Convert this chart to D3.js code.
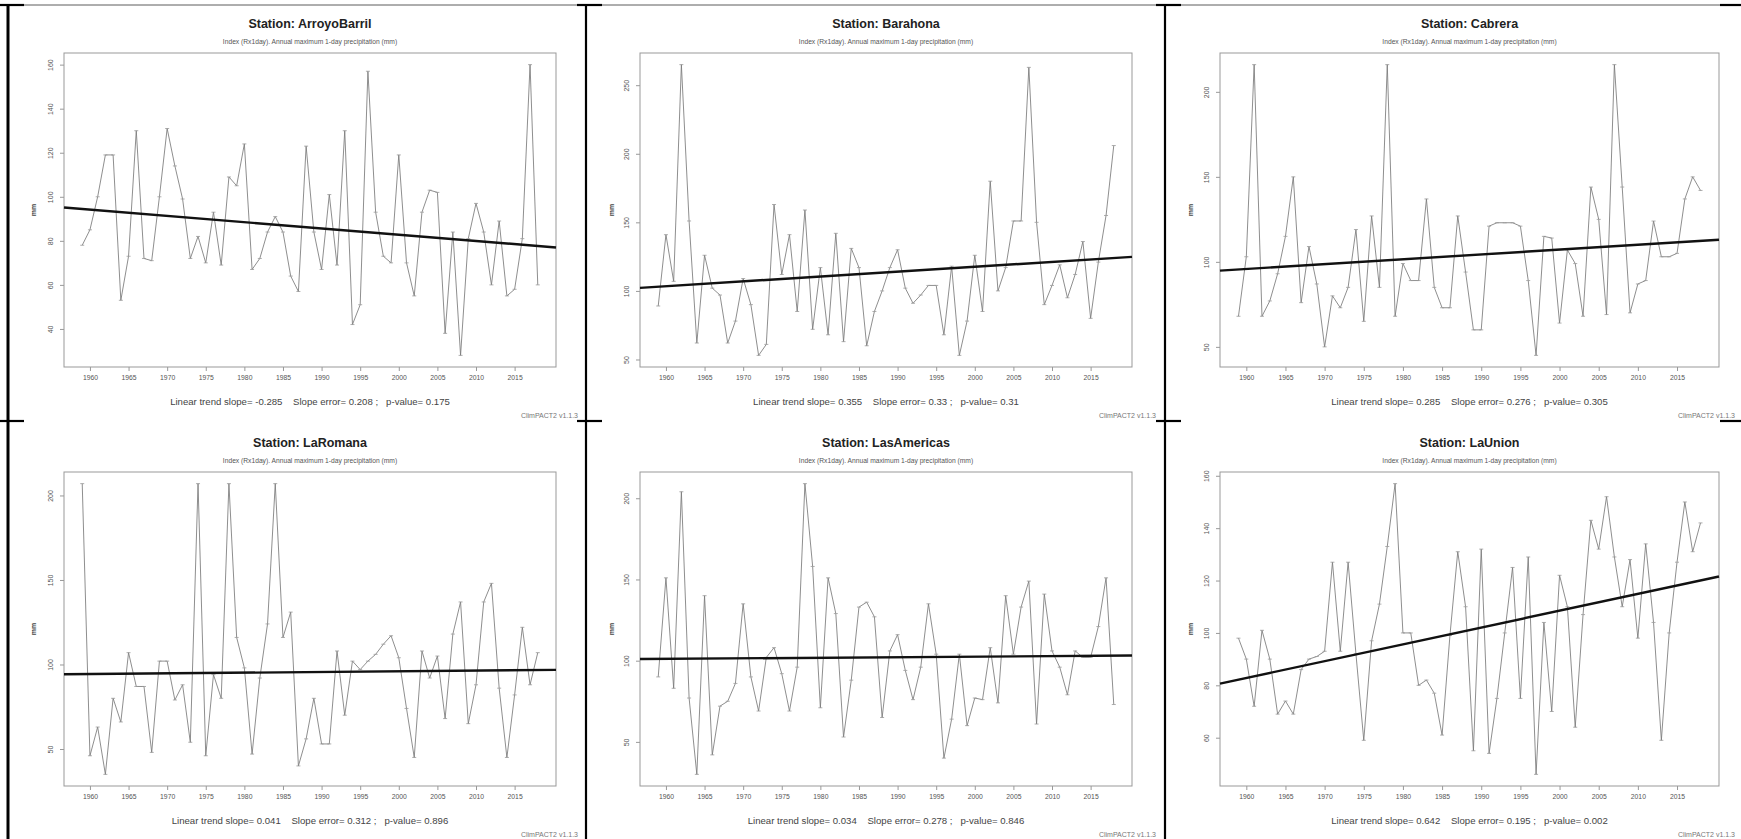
<!DOCTYPE html>
<html>
<head>
<meta charset="utf-8">
<script src="https://cdn.jsdelivr.net/npm/d3@7"></script>
<style>
  html, body { margin: 0; padding: 0; background: #fff; }
  svg { display: block; font-family: "Liberation Sans", Arial, Helvetica, sans-serif; }
  .pre { white-space: pre; }
</style>
</head>
<body>
<svg id="chart" width="1741" height="839"></svg>
<script>
// ---- data -------------------------------------------------------------
const stationNames = ["ArroyoBarril", "Barahona", "Cabrera", "LaRomana", "LasAmericas", "LaUnion"];
const years = d3.range(1959, 2019);

const arroyoBarril = [78, 85, 100, 119, 119, 53, 73, 130, 72, 71, 100, 131, 114, 99, 72, 82, 70, 93, 69, 109,
  105, 124, 67, 72, 84, 91, 84, 64, 57, 123, 84, 67, 101, 69, 130, 42, 51, 157, 93, 73,
  70, 119, 70, 55, 93, 103, 102, 38, 84, 28, 81, 97, 84, 60, 89, 55, 58, 81, 160, 60];
const barahona = [89, 141, 107, 265, 151, 62, 126, 102, 97, 62, 78, 109, 90, 53, 61, 163, 112, 141, 85, 159,
  72, 117, 68, 142, 63, 131, 117, 60, 85, 100, 117, 130, 102, 91, 97, 104, 104, 68, 118, 53,
  78, 126, 85, 180, 100, 117, 151, 151, 263, 150, 90, 104, 119, 95, 112, 136, 80, 121, 155, 206];
const cabrera = [68, 103, 216, 68, 77, 93, 115, 150, 76, 109, 87, 50, 80, 73, 85, 119, 65, 127, 85, 216,
  68, 99, 89, 89, 137, 85, 73, 73, 127, 94, 60, 60, 121, 123, 123, 123, 121, 89, 45, 115,
  114, 64, 107, 99, 68, 144, 125, 69, 216, 144, 70, 87, 89, 124, 103, 103, 105, 137, 150, 142];
const laRomana = [207, 46, 63, 35, 80, 66, 107, 87, 87, 48, 102, 102, 79, 88, 54, 207, 46, 94, 80, 207,
  116, 98, 47, 92, 124, 207, 116, 131, 40, 56, 80, 53, 53, 108, 70, 102, 97, 102, 106, 112,
  117, 104, 74, 45, 108, 92, 105, 68, 118, 137, 65, 88, 137, 148, 86, 45, 82, 122, 88, 107];
const lasAmericas = [90, 151, 83, 204, 77, 30, 140, 42, 72, 75, 86, 135, 90, 69, 102, 108, 92, 69, 96, 209,
  158, 71, 151, 129, 53, 88, 133, 136, 127, 65, 106, 116, 94, 76, 96, 135, 104, 40, 64, 104,
  60, 77, 76, 108, 74, 140, 104, 133, 149, 61, 141, 106, 96, 79, 106, 102, 102, 121, 151, 73];
const laUnion = [98, 90, 72, 101, 90, 69, 74, 69, 86, 90, 91, 93, 127, 93, 127, 92, 59, 97, 111, 133,
  157, 100, 100, 80, 82, 77, 61, 99, 131, 110, 55, 132, 54, 75, 100, 125, 75, 129, 46, 104,
  70, 122, 110, 64, 107, 143, 132, 152, 129, 110, 128, 98, 134, 104, 59, 100, 127, 150, 131, 142];

const seriesValues = [arroyoBarril, barahona, cabrera, laRomana, lasAmericas, laUnion];

// trend statistics printed under each panel (slope in mm per year)
const trendSlopes = [-0.285, 0.355, 0.285, 0.041, 0.034, 0.642];
const slopeErrors = ["0.208", "0.33", "0.276", "0.312", "0.278", "0.195"];
const pValues = ["0.175", "0.31", "0.305", "0.896", "0.846", "0.002"];

const xTickValues = d3.range(1960, 2016, 5);
const yTickValues = [
  [40, 60, 80, 100, 120, 140, 160],
  [50, 100, 150, 200, 250],
  [50, 100, 150, 200],
  [50, 100, 150, 200],
  [50, 100, 150, 200],
  [60, 80, 100, 120, 140, 160]
];

const subtitleText = "Index (Rx1day). Annual maximum 1-day precipitation (mm)";
const versionText = "ClimPACT2 v1.1.3";

// ---- layout -----------------------------------------------------------
const svg = d3.select("#chart");
const colX = [8, 586, 1165];
const rowY = [0, 419];
const plotLeft = [56, 54, 55];
const plotRight = [548, 546, 554];
const plotTop = 53, plotBottom = 367;

// frame lines and corner marks of the panel grid
const frame = svg.append("g").attr("stroke", "#000");
frame.append("line").attr("x1", colX[0]).attr("x2", 1741).attr("y1", 5).attr("y2", 5)
  .attr("stroke", "#333").attr("stroke-width", 0.8);
colX.forEach(x => {
  frame.append("line").attr("x1", x).attr("x2", x).attr("y1", 4).attr("y2", 839).attr("stroke-width", x === colX[0] ? 3 : 2.2);
  frame.append("line").attr("x1", x - 9).attr("x2", x + 16).attr("y1", 421).attr("y2", 421).attr("stroke-width", 2.2);
  frame.append("line").attr("x1", x - 9).attr("x2", x + 16).attr("y1", 5).attr("y2", 5).attr("stroke-width", 2.2);
});
frame.append("line").attr("x1", 1720).attr("x2", 1741).attr("y1", 421).attr("y2", 421).attr("stroke-width", 2.2);
frame.append("line").attr("x1", 1720).attr("x2", 1741).attr("y1", 5).attr("y2", 5).attr("stroke-width", 2.2);

stationNames.forEach((name, k) => {
  const col = k % 3, row = Math.floor(k / 3);
  const ox = colX[col], oy = rowY[row];
  const left = ox + plotLeft[col], right = ox + plotRight[col];
  const top = oy + plotTop, bottom = oy + plotBottom;
  const values = seriesValues[k];
  const g = svg.append("g");

  // R-style axis ranges: data extent padded by 4% on each side
  const xPad = (years[years.length - 1] - years[0]) * 0.04;
  const x = d3.scaleLinear().domain([years[0] - xPad, years[years.length - 1] + xPad]).range([left, right]);
  const [vmin, vmax] = d3.extent(values);
  const yPad = (vmax - vmin) * 0.04;
  const y = d3.scaleLinear().domain([vmin - yPad, vmax + yPad]).range([bottom, top]);

  const cx = (left + right) / 2;
  g.append("text").attr("x", cx).attr("y", oy + 28).attr("text-anchor", "middle")
    .attr("font-size", 12.5).attr("font-weight", "bold").attr("fill", "#222").text("Station: " + name);
  g.append("text").attr("x", cx).attr("y", oy + 44).attr("text-anchor", "middle")
    .attr("font-size", 6.7).attr("fill", "#555").text(subtitleText);

  // axes
  const xAxis = d3.axisBottom(x).tickValues(xTickValues).tickFormat(d3.format("d")).tickSize(4).tickPadding(4);
  const gx = g.append("g").attr("transform", `translate(0,${bottom})`).call(xAxis);
  gx.select(".domain").remove();
  gx.selectAll("line").attr("stroke", "#999");
  gx.selectAll("text").attr("font-size", 6.8).attr("fill", "#555").attr("font-family", "inherit");

  const yAxis = d3.axisLeft(y).tickValues(yTickValues[k]).tickSize(4).tickPadding(3);
  const gy = g.append("g").attr("transform", `translate(${left},0)`).call(yAxis);
  gy.select(".domain").remove();
  gy.selectAll("line").attr("stroke", "#999");
  gy.selectAll("text").attr("font-size", 7).attr("fill", "#555").attr("font-family", "inherit")
    .attr("text-anchor", "middle").attr("dy", 0).attr("x", 0)
    .attr("transform", "translate(-11,0) rotate(-90)");

  g.append("text").attr("transform", `translate(${ox + 28},${(top + bottom) / 2}) rotate(-90)`)
    .attr("text-anchor", "middle").attr("font-size", 7).attr("font-weight", "bold").attr("fill", "#444").text("mm");

  // plot box
  g.append("rect").attr("x", left).attr("y", top).attr("width", right - left).attr("height", bottom - top)
    .attr("fill", "none").attr("stroke", "#999").attr("stroke-width", 1);

  // series line with point markers
  const line = d3.line().x((d, i) => x(years[i])).y(d => y(d));
  g.append("path").datum(values).attr("d", line).attr("fill", "none").attr("stroke", "#7a7a7a").attr("stroke-width", 0.85);
  g.selectAll("line.pt").data(values).join("line").attr("class", "pt")
    .attr("x1", (d, i) => x(years[i]) - 2).attr("x2", (d, i) => x(years[i]) + 2)
    .attr("y1", d => y(d)).attr("y2", d => y(d)).attr("stroke", "#999").attr("stroke-width", 0.8);

  // linear trend through the mean point, using the printed slope
  const xm = d3.mean(years), ym = d3.mean(values);
  const slope = trendSlopes[k];
  const x0 = x.domain()[0], x1 = x.domain()[1];
  g.append("line").attr("x1", x(x0)).attr("x2", x(x1))
    .attr("y1", y(ym + slope * (x0 - xm))).attr("y2", y(ym + slope * (x1 - xm)))
    .attr("stroke", "#111").attr("stroke-width", 2.4);

  g.append("text").attr("class", "pre").attr("x", cx).attr("y", oy + 405).attr("text-anchor", "middle")
    .attr("font-size", 9.6).attr("fill", "#444")
    .text(`Linear trend slope= ${slope}    Slope error= ${slopeErrors[k]} ;   p-value= ${pValues[k]}`);
  g.append("text").attr("x", ox + 570).attr("y", oy + 418).attr("text-anchor", "end")
    .attr("font-size", 7).attr("fill", "#777").text(versionText);
});
</script>
</body>
</html>
